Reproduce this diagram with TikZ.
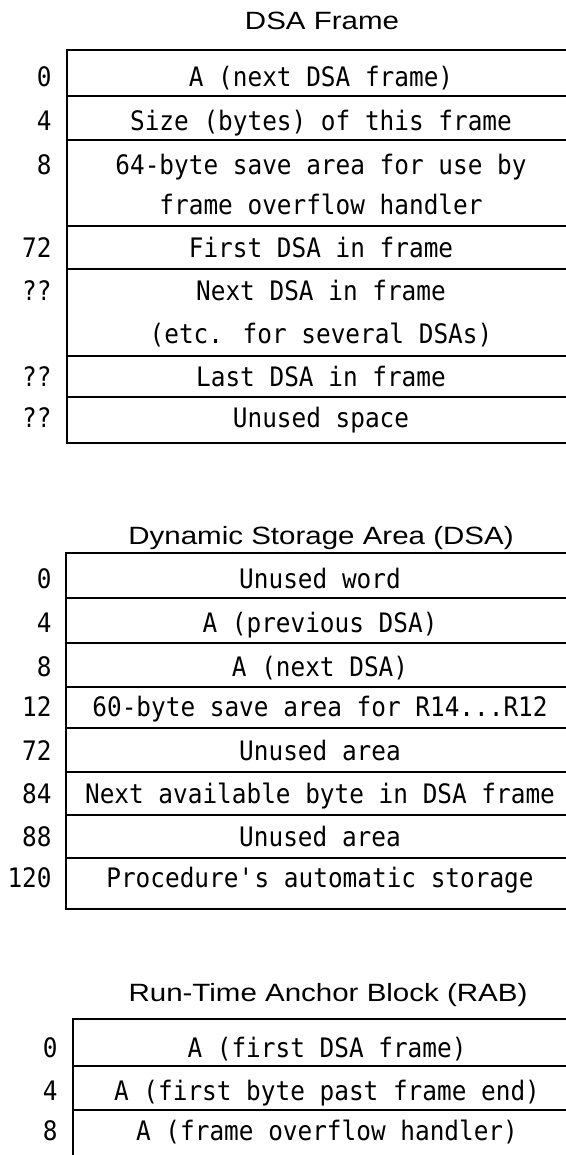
\documentclass[tikz,border=0pt]{standalone}
\usepackage{fontspec}
\setmainfont{Liberation Sans}
\newfontfamily\titlefont[FakeStretch=1.18]{Liberation Sans}
\newfontfamily\cellfont[FakeStretch=0.91]{DejaVu Sans Mono}
\usetikzlibrary{positioning}

\tikzset{
  blocktitle/.style={font=\titlefont\fontsize{12.5}{14}\selectfont, anchor=base, inner sep=0pt},
  celltext/.style={font=\cellfont\fontsize{13.4}{16}\selectfont, anchor=base, inner sep=0pt},
  offsettext/.style={celltext, anchor=base east},
  boxline/.style={line width=1.2pt, line cap=rect}
}

\begin{document}
\begin{tikzpicture}[x=0.5pt, y=-0.5pt]
      % Page size and clipping (boxes run past the right edge)
      \useasboundingbox (0,0) rectangle (566,1155);
      \clip (0,0) rectangle (566,1155);

      % Define the columns
      \def\RightEdge{600}

      % DSA frame
      \node[blocktitle] (frame-title) at (322,30) {DSA Frame};
      \draw[boxline] (67,50) rectangle (\RightEdge,443);
      \foreach \y in {96,140,226,269,356,397}
        \draw[boxline] (67,\y) -- (\RightEdge,\y);
      \foreach \y/\lbl/\txt [count=\i] in {
          87/0/{A (next DSA frame)},
          131/4/{Size (bytes) of this frame},
          175/8/{64-byte save area for use by},
          214//{frame overflow handler},
          257/72/{First DSA in frame},
          300/??/{Next DSA in frame},
          343//{(etc. for several DSAs)},
          386/??/{Last DSA in frame},
          427/??/{Unused space}}
      {
        \node[celltext] (frame-\i) at (321,\y) {\txt};
        \node[offsettext] (frame-off-\i) at (52,\y) {\lbl};
      }

      % Dynamic storage area
      \node[blocktitle] (dsa-title) at (321,544) {Dynamic Storage Area (DSA)};
      \draw[boxline] (66,553) rectangle (\RightEdge,909);
      \foreach \y in {598,643,687,728,772,815,858}
        \draw[boxline] (66,\y) -- (\RightEdge,\y);
      \foreach \y/\lbl/\txt [count=\i] in {
          588/0/{Unused word},
          632/4/{A (previous DSA)},
          676/8/{A (next DSA)},
          716/12/{60-byte save area for R14...R12},
          760/72/{Unused area},
          803/84/{Next available byte in DSA frame},
          846/88/{Unused area},
          887/120/{Procedure\textquotesingle s automatic storage}}
      {
        \node[celltext] (dsa-\i) at (320,\y) {\txt};
        \node[offsettext] (dsa-off-\i) at (52,\y) {\lbl};
      }

      % Run-time anchor block
      \node[blocktitle] (rab-title) at (328,1001) {Run-Time Anchor Block (RAB)};
      \draw[boxline] (73,1019) rectangle (\RightEdge,1200);
      \foreach \y in {1066,1110}
        \draw[boxline] (73,\y) -- (\RightEdge,\y);
      \foreach \y/\lbl/\txt [count=\i] in {
          1057/0/{A (first DSA frame)},
          1100/4/{A (first byte past frame end)},
          1140/8/{A (frame overflow handler)}}
      {
        \node[celltext] (rab-\i) at (327,\y) {\txt};
        \node[offsettext] (rab-off-\i) at (58,\y) {\lbl};
      }
    \end{tikzpicture}
\end{document}
